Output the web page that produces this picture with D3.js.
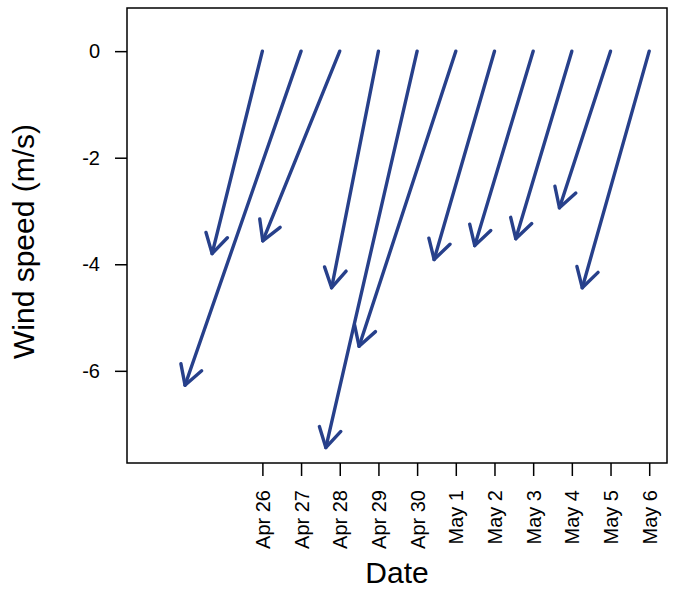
<!DOCTYPE html>
<html>
<head>
<meta charset="utf-8">
<script src="https://cdn.jsdelivr.net/npm/d3@7"></script>
<style>
  body { margin: 0; background: #fff; }
  svg { display: block; font-family: "Liberation Sans", Arial, sans-serif; }
</style>
</head>
<body>
<div id="chart"></div>
<script>
// daily wind vectors: start at (date, 0), end at (date + u days, v)
var dates = ["2015-04-26", "2015-04-27", "2015-04-28", "2015-04-29", "2015-04-30",
             "2015-05-01", "2015-05-02", "2015-05-03", "2015-05-04", "2015-05-05", "2015-05-06"];
var uWind = [-1.30, -3.00, -1.99, -1.21, -2.36, -2.50, -1.56, -1.51, -1.45, -1.32, -1.73];
var vWind = [-3.80, -6.27, -3.56, -4.44, -7.44, -5.54, -3.91, -3.65, -3.52, -2.94, -4.44];
var yTicks = [0, -2, -4, -6];

var W = 677, H = 589;
var box = { left: 127, right: 667, top: 8, bottom: 463 };
var DAY = 864e5;
var arrowColor = "#27408B";

var parse = d3.utcParse("%Y-%m-%d");
var days = dates.map(parse);

var x = d3.scaleUtc()
    .domain([new Date(+days[0] - 3.5 * DAY), new Date(+days[days.length - 1] + 0.46 * DAY)])
    .range([box.left, box.right]);
var y = d3.scaleLinear()
    .domain([-7.73, 0.81])
    .range([box.bottom, box.top]);

var svg = d3.select("#chart").append("svg")
    .attr("width", W).attr("height", H);

// arrows
var arrows = days.map(function(d, i) {
  return {
    x0: x(d), y0: y(0),
    x1: x(new Date(+d + uWind[i] * DAY)), y1: y(vWind[i])
  };
});

var g = svg.append("g")
    .attr("stroke", arrowColor)
    .attr("stroke-width", 3.4)
    .attr("stroke-linecap", "round")
    .attr("fill", "none");

var headLen = 22, headAng = Math.PI / 6;
arrows.forEach(function(a) {
  g.append("line")
    .attr("x1", a.x0).attr("y1", a.y0)
    .attr("x2", a.x1).attr("y2", a.y1);
  var ang = Math.atan2(a.y0 - a.y1, a.x0 - a.x1);
  var p1 = [a.x1 + headLen * Math.cos(ang + headAng), a.y1 + headLen * Math.sin(ang + headAng)];
  var p2 = [a.x1 + headLen * Math.cos(ang - headAng), a.y1 + headLen * Math.sin(ang - headAng)];
  g.append("path")
    .attr("stroke-linejoin", "round")
    .attr("d", "M" + p1 + "L" + a.x1 + "," + a.y1 + "L" + p2);
});

// box
svg.append("rect")
    .attr("x", box.left).attr("y", box.top)
    .attr("width", box.right - box.left).attr("height", box.bottom - box.top)
    .attr("fill", "none").attr("stroke", "#000").attr("stroke-width", 1.5);

// x axis
var xAxis = svg.append("g")
    .attr("transform", "translate(0," + box.bottom + ")")
    .call(d3.axisBottom(x).tickValues(days).tickFormat(d3.utcFormat("%b %-d")).tickSize(13));
xAxis.select(".domain").remove();
xAxis.selectAll(".tick line").attr("stroke-width", 1.5);
xAxis.selectAll(".tick text")
    .attr("transform", "rotate(-90)")
    .attr("x", -27).attr("y", 0).attr("dy", "0.35em")
    .style("text-anchor", "end")
    .style("font-size", "20px")
    .attr("fill", "#000");

// y axis
var yAxis = svg.append("g")
    .attr("transform", "translate(" + box.left + ",0)")
    .call(d3.axisLeft(y).tickValues(yTicks).tickFormat(function(d) { return String(d); }).tickSize(12).tickPadding(15));
yAxis.select(".domain").remove();
yAxis.selectAll(".tick line").attr("stroke-width", 1.5);
yAxis.selectAll(".tick text")
    .style("font-size", "20px")
    .attr("fill", "#000");

// titles
svg.append("text")
    .attr("x", (box.left + box.right) / 2).attr("y", 583)
    .attr("text-anchor", "middle")
    .style("font-size", "30px")
    .text("Date");

svg.append("text")
    .attr("transform", "translate(34," + ((box.top + box.bottom) / 2 + 6) + ") rotate(-90)")
    .attr("text-anchor", "middle")
    .style("font-size", "30px")
    .text("Wind speed (m/s)");
</script>
</body>
</html>
